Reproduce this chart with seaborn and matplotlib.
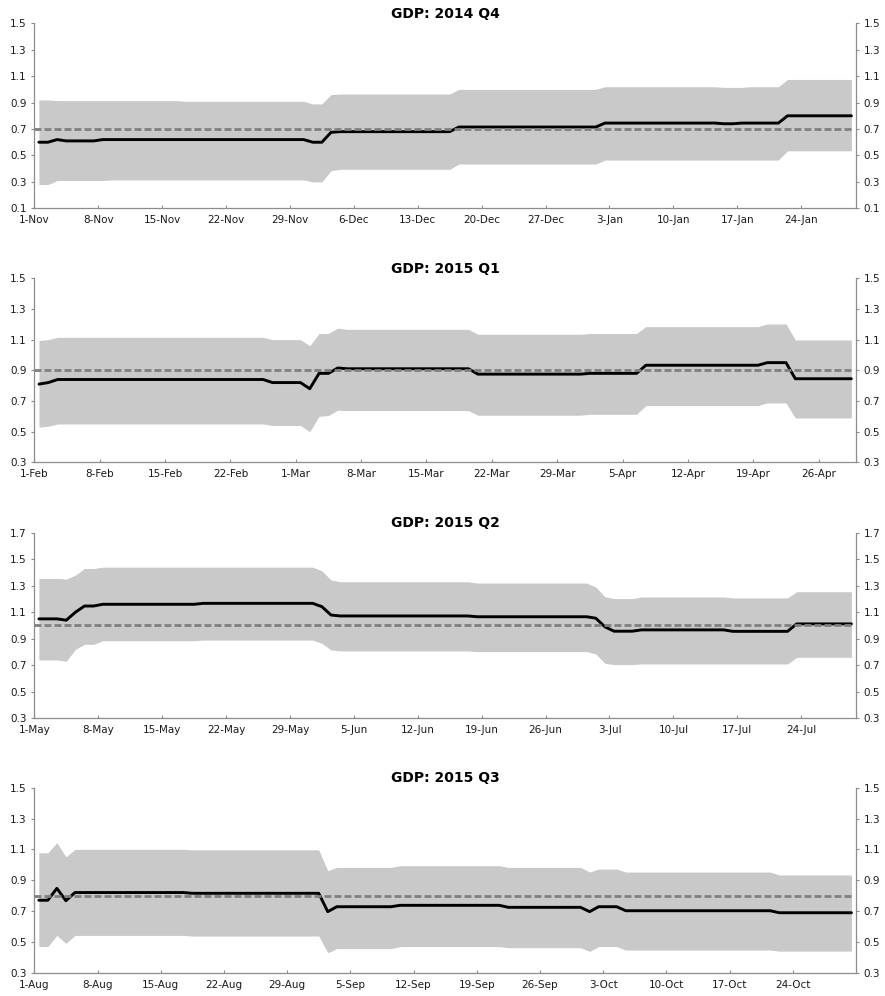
import numpy as np
import pandas as pd
import matplotlib
matplotlib.use("Agg")
import matplotlib.pyplot as plt
import seaborn as sns

# ---------------- data ----------------
titles = ["GDP: 2014 Q4", "GDP: 2015 Q1", "GDP: 2015 Q2", "GDP: 2015 Q3"]
start_dates = ["2014-11-01", "2015-02-01", "2015-05-01", "2015-08-01"]
targets = [0.7, 0.9, 1.0, 0.8]
y_limits = [(0.1, 1.5), (0.3, 1.5), (0.3, 1.7), (0.3, 1.5)]

median_q4 = [
    0.60, 0.60, 0.62, 0.61, 0.61, 0.61, 0.61, 0.62, 0.62, 0.62,
    0.62, 0.62, 0.62, 0.62, 0.62, 0.62, 0.62, 0.62, 0.62, 0.62,
    0.62, 0.62, 0.62, 0.62, 0.62, 0.62, 0.62, 0.62, 0.62, 0.62,
    0.60, 0.60, 0.675, 0.68, 0.68, 0.68, 0.68, 0.68, 0.68, 0.68,
    0.68, 0.68, 0.68, 0.68, 0.68, 0.68, 0.715, 0.715, 0.715, 0.715,
    0.715, 0.715, 0.715, 0.715, 0.715, 0.715, 0.715, 0.715, 0.715, 0.715,
    0.715, 0.715, 0.745, 0.745, 0.745, 0.745, 0.745, 0.745, 0.745, 0.745,
    0.745, 0.745, 0.745, 0.745, 0.745, 0.74, 0.74, 0.745, 0.745, 0.745,
    0.745, 0.745, 0.80, 0.80, 0.80, 0.80, 0.80, 0.80, 0.80, 0.80,
]
upper_q4 = [
    0.92, 0.92, 0.915, 0.915, 0.915, 0.915, 0.915, 0.915, 0.915, 0.915,
    0.915, 0.915, 0.915, 0.915, 0.915, 0.915, 0.91, 0.91, 0.91, 0.91,
    0.91, 0.91, 0.91, 0.91, 0.91, 0.91, 0.91, 0.91, 0.91, 0.91,
    0.89, 0.89, 0.96, 0.965, 0.965, 0.965, 0.965, 0.965, 0.965, 0.965,
    0.965, 0.965, 0.965, 0.965, 0.965, 0.965, 1.00, 1.00, 1.00, 1.00,
    1.00, 1.00, 1.00, 1.00, 1.00, 1.00, 1.00, 1.00, 1.00, 1.00,
    1.00, 1.00, 1.02, 1.02, 1.02, 1.02, 1.02, 1.02, 1.02, 1.02,
    1.02, 1.02, 1.02, 1.02, 1.02, 1.015, 1.015, 1.015, 1.02, 1.02,
    1.02, 1.02, 1.075, 1.075, 1.075, 1.075, 1.075, 1.075, 1.075, 1.075,
]
lower_q4 = [
    0.28, 0.28, 0.31, 0.31, 0.31, 0.31, 0.31, 0.31, 0.315, 0.315,
    0.315, 0.315, 0.315, 0.315, 0.315, 0.315, 0.315, 0.315, 0.315, 0.315,
    0.315, 0.315, 0.315, 0.315, 0.315, 0.315, 0.315, 0.315, 0.315, 0.315,
    0.30, 0.30, 0.385, 0.395, 0.395, 0.395, 0.395, 0.395, 0.395, 0.395,
    0.395, 0.395, 0.395, 0.395, 0.395, 0.395, 0.435, 0.435, 0.435, 0.435,
    0.435, 0.435, 0.435, 0.435, 0.435, 0.435, 0.435, 0.435, 0.435, 0.435,
    0.435, 0.435, 0.465, 0.465, 0.465, 0.465, 0.465, 0.465, 0.465, 0.465,
    0.465, 0.465, 0.465, 0.465, 0.465, 0.465, 0.465, 0.465, 0.465, 0.465,
    0.465, 0.465, 0.535, 0.535, 0.535, 0.535, 0.535, 0.535, 0.535, 0.535,
]

median_q1 = [
    0.81, 0.82, 0.84, 0.84, 0.84, 0.84, 0.84, 0.84, 0.84, 0.84,
    0.84, 0.84, 0.84, 0.84, 0.84, 0.84, 0.84, 0.84, 0.84, 0.84,
    0.84, 0.84, 0.84, 0.84, 0.84, 0.82, 0.82, 0.82, 0.82, 0.78,
    0.88, 0.88, 0.915, 0.91, 0.91, 0.91, 0.91, 0.91, 0.91, 0.91,
    0.91, 0.91, 0.91, 0.91, 0.91, 0.91, 0.91, 0.875, 0.875, 0.875,
    0.875, 0.875, 0.875, 0.875, 0.875, 0.875, 0.875, 0.875, 0.875, 0.88,
    0.88, 0.88, 0.88, 0.88, 0.88, 0.933, 0.933, 0.933, 0.933, 0.933,
    0.933, 0.933, 0.933, 0.933, 0.933, 0.933, 0.933, 0.933, 0.95, 0.95,
    0.95, 0.845, 0.845, 0.845, 0.845, 0.845, 0.845, 0.845,
]
upper_q1 = [
    1.095, 1.10, 1.115, 1.115, 1.115, 1.115, 1.115, 1.115, 1.115, 1.115,
    1.115, 1.115, 1.115, 1.115, 1.115, 1.115, 1.115, 1.115, 1.115, 1.115,
    1.115, 1.115, 1.115, 1.115, 1.115, 1.10, 1.10, 1.10, 1.10, 1.06,
    1.14, 1.14, 1.175, 1.167, 1.167, 1.167, 1.167, 1.167, 1.167, 1.167,
    1.167, 1.167, 1.167, 1.167, 1.167, 1.167, 1.167, 1.135, 1.135, 1.135,
    1.135, 1.135, 1.135, 1.135, 1.135, 1.135, 1.135, 1.135, 1.135, 1.14,
    1.14, 1.14, 1.14, 1.14, 1.14, 1.185, 1.185, 1.185, 1.185, 1.185,
    1.185, 1.185, 1.185, 1.185, 1.185, 1.185, 1.185, 1.185, 1.202, 1.202,
    1.202, 1.098, 1.098, 1.098, 1.098, 1.098, 1.098, 1.098,
]
lower_q1 = [
    0.53, 0.535, 0.55, 0.55, 0.55, 0.55, 0.55, 0.55, 0.55, 0.55,
    0.55, 0.55, 0.55, 0.55, 0.55, 0.55, 0.55, 0.55, 0.55, 0.55,
    0.55, 0.55, 0.55, 0.55, 0.55, 0.54, 0.54, 0.54, 0.54, 0.50,
    0.60, 0.605, 0.64, 0.637, 0.637, 0.637, 0.637, 0.637, 0.637, 0.637,
    0.637, 0.637, 0.637, 0.637, 0.637, 0.637, 0.637, 0.607, 0.607, 0.607,
    0.607, 0.607, 0.607, 0.607, 0.607, 0.607, 0.607, 0.607, 0.607, 0.613,
    0.613, 0.613, 0.613, 0.613, 0.613, 0.67, 0.67, 0.67, 0.67, 0.67,
    0.67, 0.67, 0.67, 0.67, 0.67, 0.67, 0.67, 0.67, 0.687, 0.687,
    0.687, 0.589, 0.589, 0.589, 0.589, 0.589, 0.589, 0.589,
]

median_q2 = [
    1.05, 1.05, 1.05, 1.04, 1.10, 1.147, 1.147, 1.16, 1.16, 1.16,
    1.16, 1.16, 1.16, 1.16, 1.16, 1.16, 1.16, 1.16, 1.167, 1.167,
    1.167, 1.167, 1.167, 1.167, 1.167, 1.167, 1.167, 1.167, 1.167, 1.167,
    1.167, 1.142, 1.079, 1.072, 1.072, 1.072, 1.072, 1.072, 1.072, 1.072,
    1.072, 1.072, 1.072, 1.072, 1.072, 1.072, 1.072, 1.072, 1.066, 1.066,
    1.066, 1.066, 1.066, 1.066, 1.066, 1.066, 1.066, 1.066, 1.066, 1.066,
    1.066, 1.055, 0.99, 0.957, 0.957, 0.957, 0.967, 0.967, 0.967, 0.967,
    0.967, 0.967, 0.967, 0.967, 0.967, 0.967, 0.956, 0.956, 0.956, 0.956,
    0.956, 0.956, 0.956, 1.012, 1.012, 1.012, 1.012, 1.012, 1.012, 1.012,
]
upper_q2 = [
    1.355, 1.355, 1.355, 1.35, 1.38, 1.43, 1.43, 1.44, 1.44, 1.44,
    1.44, 1.44, 1.44, 1.44, 1.44, 1.44, 1.44, 1.44, 1.44, 1.44,
    1.44, 1.44, 1.44, 1.44, 1.44, 1.44, 1.44, 1.44, 1.44, 1.44,
    1.44, 1.413, 1.343, 1.33, 1.33, 1.33, 1.33, 1.33, 1.33, 1.33,
    1.33, 1.33, 1.33, 1.33, 1.33, 1.33, 1.33, 1.33, 1.32, 1.32,
    1.32, 1.32, 1.32, 1.32, 1.32, 1.32, 1.32, 1.32, 1.32, 1.32,
    1.32, 1.29, 1.217, 1.203, 1.203, 1.203, 1.215, 1.215, 1.215, 1.215,
    1.215, 1.215, 1.215, 1.215, 1.215, 1.215, 1.208, 1.208, 1.208, 1.208,
    1.208, 1.208, 1.208, 1.255, 1.255, 1.255, 1.255, 1.255, 1.255, 1.255,
]
lower_q2 = [
    0.74, 0.74, 0.74, 0.73, 0.82, 0.858, 0.858, 0.885, 0.885, 0.885,
    0.885, 0.885, 0.885, 0.885, 0.885, 0.885, 0.885, 0.885, 0.89, 0.89,
    0.89, 0.89, 0.89, 0.89, 0.89, 0.89, 0.89, 0.89, 0.89, 0.89,
    0.89, 0.865, 0.815, 0.808, 0.808, 0.808, 0.808, 0.808, 0.808, 0.808,
    0.808, 0.808, 0.808, 0.808, 0.808, 0.808, 0.808, 0.808, 0.803, 0.803,
    0.803, 0.803, 0.803, 0.803, 0.803, 0.803, 0.803, 0.803, 0.803, 0.803,
    0.803, 0.785, 0.715, 0.705, 0.705, 0.705, 0.71, 0.71, 0.71, 0.71,
    0.71, 0.71, 0.71, 0.71, 0.71, 0.71, 0.71, 0.71, 0.71, 0.71,
    0.71, 0.71, 0.71, 0.76, 0.76, 0.76, 0.76, 0.76, 0.76, 0.76,
]

median_q3 = [
    0.77, 0.77, 0.847, 0.767, 0.82, 0.82, 0.82, 0.82, 0.82, 0.82,
    0.82, 0.82, 0.82, 0.82, 0.82, 0.82, 0.82, 0.815, 0.815, 0.815,
    0.815, 0.815, 0.815, 0.815, 0.815, 0.815, 0.815, 0.815, 0.815, 0.815,
    0.815, 0.815, 0.696, 0.728, 0.728, 0.728, 0.728, 0.728, 0.728, 0.728,
    0.737, 0.737, 0.737, 0.737, 0.737, 0.737, 0.737, 0.737, 0.737, 0.737,
    0.737, 0.737, 0.724, 0.724, 0.724, 0.724, 0.724, 0.724, 0.724, 0.724,
    0.724, 0.696, 0.728, 0.728, 0.728, 0.702, 0.702, 0.702, 0.702, 0.702,
    0.702, 0.702, 0.702, 0.702, 0.702, 0.702, 0.702, 0.702, 0.702, 0.702,
    0.702, 0.702, 0.689, 0.689, 0.689, 0.689, 0.689, 0.689, 0.689, 0.689,
    0.689,
]
upper_q3 = [
    1.078, 1.078, 1.143, 1.052, 1.10, 1.10, 1.10, 1.10, 1.10, 1.10,
    1.10, 1.10, 1.10, 1.10, 1.10, 1.10, 1.10, 1.097, 1.097, 1.097,
    1.097, 1.097, 1.097, 1.097, 1.097, 1.097, 1.097, 1.097, 1.097, 1.097,
    1.097, 1.097, 0.962, 0.983, 0.983, 0.983, 0.983, 0.983, 0.983, 0.983,
    0.994, 0.994, 0.994, 0.994, 0.994, 0.994, 0.994, 0.994, 0.994, 0.994,
    0.994, 0.994, 0.983, 0.983, 0.983, 0.983, 0.983, 0.983, 0.983, 0.983,
    0.983, 0.953, 0.972, 0.972, 0.972, 0.953, 0.953, 0.953, 0.953, 0.953,
    0.953, 0.953, 0.953, 0.953, 0.953, 0.953, 0.953, 0.953, 0.953, 0.953,
    0.953, 0.953, 0.934, 0.934, 0.934, 0.934, 0.934, 0.934, 0.934, 0.934,
    0.934,
]
lower_q3 = [
    0.469, 0.469, 0.542, 0.49, 0.542, 0.542, 0.542, 0.542, 0.542, 0.542,
    0.542, 0.542, 0.542, 0.542, 0.542, 0.542, 0.542, 0.538, 0.538, 0.538,
    0.538, 0.538, 0.538, 0.538, 0.538, 0.538, 0.538, 0.538, 0.538, 0.538,
    0.538, 0.538, 0.43, 0.456, 0.456, 0.456, 0.456, 0.456, 0.456, 0.456,
    0.469, 0.469, 0.469, 0.469, 0.469, 0.469, 0.469, 0.469, 0.469, 0.469,
    0.469, 0.469, 0.462, 0.462, 0.462, 0.462, 0.462, 0.462, 0.462, 0.462,
    0.462, 0.438, 0.469, 0.469, 0.469, 0.447, 0.447, 0.447, 0.447, 0.447,
    0.447, 0.447, 0.447, 0.447, 0.447, 0.447, 0.447, 0.447, 0.447, 0.447,
    0.447, 0.447, 0.44, 0.44, 0.44, 0.44, 0.44, 0.44, 0.44, 0.44,
    0.44,
]

medians = [median_q4, median_q1, median_q2, median_q3]
uppers = [upper_q4, upper_q1, upper_q2, upper_q3]
lowers = [lower_q4, lower_q1, lower_q2, lower_q3]

# ---------------- style ----------------
sns.set_style("ticks")
plt.rcParams["font.family"] = ["DejaVu Sans"]

BAND = "#c9c9c9"
DASH = "#7f7f7f"
SPINE = "#8c8c8c"
TXT = "#1a1a1a"

fig = plt.figure(figsize=(8.85, 9.96), dpi=100)
W, H = 885.0, 996.0
left_px, right_px = 34.3, 856.0
panel_tb = [(23.3, 208.3), (278.3, 462.3), (532.7, 718.3), (787.7, 972.7)]

for k in range(4):
    top, bot = panel_tb[k]
    ax = fig.add_axes([left_px / W, 1 - bot / H, (right_px - left_px) / W, (bot - top) / H])
    med = medians[k]
    n = len(med)
    dates = pd.date_range(start_dates[k], periods=n, freq="D")
    x = np.arange(n) + 0.5
    df = pd.DataFrame({"x": x, "median": med, "upper": uppers[k], "lower": lowers[k]})

    ax.fill_between(df["x"], df["lower"], df["upper"], color=BAND, lw=0, zorder=1)
    sns.lineplot(data=df, x="x", y="median", ax=ax, color="black", lw=2.1, zorder=3)
    ax.plot([0, x[-1]], [targets[k], targets[k]], color=DASH, lw=2.0,
            ls=(0, (2.5, 1.1)), zorder=4, solid_capstyle="butt", dash_capstyle="butt")

    ax.set_xlim(0, n)
    ax.set_ylim(*y_limits[k])
    lo, hi = y_limits[k]
    yt = np.round(np.arange(lo, hi + 0.001, 0.2), 1)
    ax.set_yticks(yt)
    ax.set_yticklabels([f"{v:.1f}" for v in yt])
    xt = list(range(0, n, 7))
    ax.set_xticks(xt)
    ax.set_xticklabels([f"{dates[t].day}-{dates[t]:%b}" for t in xt])
    ax.set_xlabel("")
    ax.set_ylabel("")

    ax.spines["top"].set_visible(False)
    for s in ["left", "right", "bottom"]:
        ax.spines[s].set_visible(True)
        ax.spines[s].set_color(SPINE)
        ax.spines[s].set_linewidth(0.9)

    ax.tick_params(axis="y", which="both", direction="out", length=2.5, width=0.8,
                   color=SPINE, labelsize=7.5, labelcolor=TXT, left=True, right=True,
                   labelleft=True, labelright=True, pad=3)
    ax.tick_params(axis="x", direction="in", length=2.5, width=0.8, color=SPINE,
                   labelsize=7.5, labelcolor=TXT, pad=5)
    ax.set_title(titles[k], fontsize=10, fontweight="bold", color="black", pad=4)
    ax.grid(False)

fig.savefig("out.png", dpi=100)
